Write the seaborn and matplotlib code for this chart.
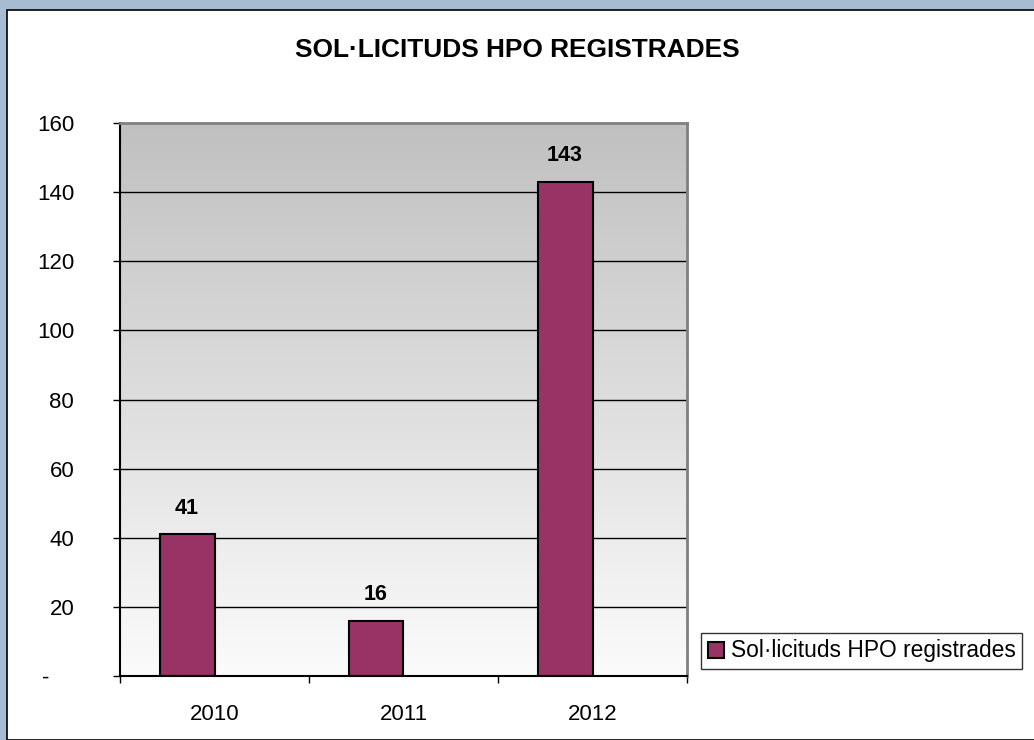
import numpy as np
import pandas as pd
import seaborn as sns
import matplotlib.pyplot as plt
from matplotlib.patches import Patch, Rectangle
from matplotlib.colors import LinearSegmentedColormap
from matplotlib.ticker import FuncFormatter, FixedLocator

# --- dades ---
anys = ['2010', '2011', '2012']
sollicituds = [41, 16, 143]
serie = 'Sol·licituds HPO registrades'
titol = 'SOL·LICITUDS HPO REGISTRADES'
y_ticks = [0, 20, 40, 60, 80, 100, 120, 140, 160]

# la segona serie buida deixa les barres desplaçades a l'esquerra (com a l'Excel)
df = pd.DataFrame({
    'any': anys + anys,
    'valor': sollicituds + [np.nan] * len(anys),
    'serie': [serie] * len(anys) + ['buida'] * len(anys),
})

sns.set_theme(style='white')
plt.rcParams['font.family'] = ['Liberation Sans', 'DejaVu Sans']

W, H = 1034, 740
fig = plt.figure(figsize=(W / 100, H / 100), dpi=100, facecolor='#a7bbd3')

# fons blanc del grafic
fig.patches.append(Rectangle((7 / W, 0), 1.0, 1 - 10 / H, transform=fig.transFigure,
                             facecolor='white', edgecolor='black', linewidth=1.2, zorder=-5))

ax = fig.add_axes([120 / W, (H - 676) / H, 567 / W, 553 / H])
ax.set_zorder(2)
ax.set_facecolor('none')

# degradat gris de l'area de dibuix
cmap = LinearSegmentedColormap.from_list('gris', ['#fbfbfb', '#c0c0c0'])
grad = np.linspace(0, 1, 256).reshape(-1, 1)
ax.imshow(grad, cmap=cmap, aspect='auto', extent=[0, 1, 0, 1], origin='lower',
          transform=ax.transAxes, zorder=0)

sns.barplot(data=df, x='any', y='valor', hue='serie', hue_order=[serie, 'buida'],
            order=anys, palette=['#993366', '#993366'], saturation=1, width=0.582,
            edgecolor='black', linewidth=1.5, legend=False, ax=ax, zorder=3)

ax.set_xlim(-0.5, 2.5)
ax.set_ylim(0, 160)

# graella
for v in y_ticks[1:-1]:
    ax.axhline(v, color='black', linewidth=1, zorder=1)

ax.bar_label(ax.containers[0], fmt='%d', padding=11, fontsize=15.5, fontweight='bold',
             color='black')

# eixos
ax.set_yticks(y_ticks)
ax.yaxis.set_major_formatter(FuncFormatter(lambda v, p: '-    ' if v == 0 else f'{int(v)}'))
ax.tick_params(axis='y', direction='out', length=5, width=1, color='black', pad=28,
               labelsize=16, labelcolor='black', left=True)
ax.set_xticks(range(len(anys)))
ax.set_xticklabels(anys)
ax.tick_params(axis='x', which='major', length=0, pad=20, labelsize=16, labelcolor='black')
ax.xaxis.set_minor_locator(FixedLocator([-0.5, 0.5, 1.5, 2.5]))
ax.tick_params(axis='x', which='minor', direction='out', length=5, width=1,
               color='black', bottom=True)
ax.set_xlabel('')
ax.set_ylabel('')

for s in ['left', 'bottom']:
    ax.spines[s].set_color('black')
    ax.spines[s].set_linewidth(1.5)
for s in ['top', 'right']:
    ax.spines[s].set_color('#808080')
    ax.spines[s].set_linewidth(2)
for s in ax.spines.values():
    s.set_zorder(4)

fig.text(0.5, 1 - 57 / H, titol, ha='center', va='baseline', fontsize=18.9,
         fontweight='bold', color='black')

leg = fig.legend(handles=[Patch(facecolor='#993366', edgecolor='black', linewidth=1.5,
                                label=serie)],
                 loc='center left', bbox_to_anchor=(701 / W, 1 - 651 / H),
                 fontsize=16.4, frameon=True, fancybox=False, handlelength=0.7,
                 handleheight=0.7, handletextpad=0.3, borderpad=0.3, borderaxespad=0,
                 labelcolor='black')
leg.get_frame().set_edgecolor('black')
leg.get_frame().set_linewidth(1)

fig.savefig('out.png', dpi=100, facecolor=fig.get_facecolor())
